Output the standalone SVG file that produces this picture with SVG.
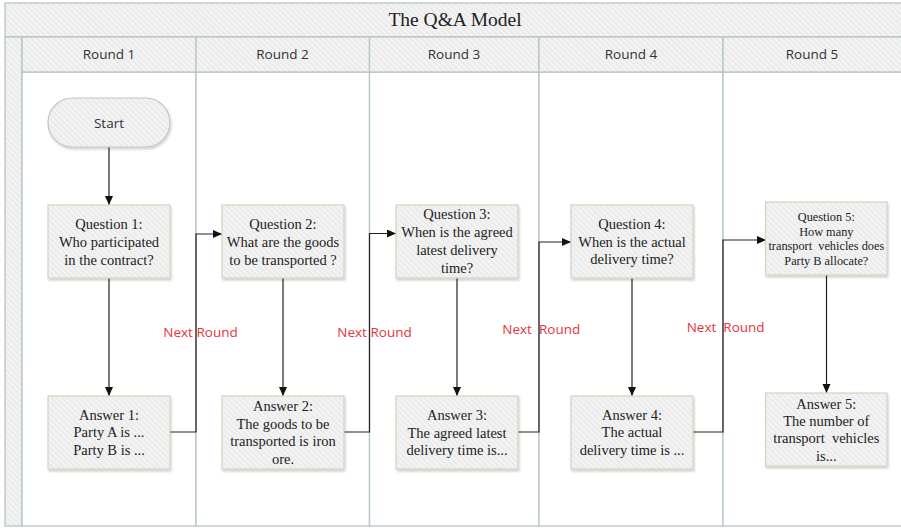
<svg xmlns="http://www.w3.org/2000/svg" width="901" height="528" viewBox="0 0 901 528">
  <style>
    .band { fill: url(#stripes); stroke: #b3c7c0; stroke-width: 1.3; }
    .lane { fill: #ffffff; stroke: #b3c7c0; stroke-width: 1.3; }
    .box { fill: url(#stripes); stroke: #d8d2bc; stroke-width: 1.2; filter: url(#shadow); }
    .term { fill: url(#stripes); stroke: #b9c9c3; stroke-width: 1.2; filter: url(#shadow); }
    .title { font-family: "Liberation Serif", "Times New Roman", serif; font-size: 19.5px; fill: #222; text-anchor: middle; }
    .head { font-family: "Open Sans", "Noto Sans", sans-serif; font-size: 13.5px; fill: #333; text-anchor: middle; }
    .txt { font-family: "Liberation Serif", "Times New Roman", serif; font-size: 14.5px; fill: #222; text-anchor: middle; }
    .small { font-size: 12.3px; }
    .edge { fill: none; stroke: #222; stroke-width: 1.2; }
    .label { font-family: "Open Sans", "Noto Sans", sans-serif; font-size: 13.5px; fill: #e5353b; white-space: pre; }
  </style>
  <defs>
    <pattern id="stripes" patternUnits="userSpaceOnUse" width="4" height="4" patternTransform="rotate(-45)">
      <rect width="4" height="4" fill="#ebebeb"/>
      <rect width="1.6" height="4" fill="#f6f6f6"/>
    </pattern>
    <filter id="shadow" x="-10%" y="-10%" width="120%" height="125%">
      <feDropShadow dx="1" dy="2" stdDeviation="1.2" flood-color="#000" flood-opacity="0.18"/>
    </filter>
    <marker id="arrow" markerUnits="userSpaceOnUse" markerWidth="10" markerHeight="10" refX="9" refY="4" orient="auto">
      <path d="M0,0 L9,4 L0,8 z" fill="#111"/>
    </marker>
  </defs>

  <!-- swimlane frame -->
  <g id="pool">
    <rect class="band" x="5" y="3" width="900" height="34"/>
    <text class="title" x="455" y="26">The Q&amp;A Model</text>
    <rect class="band" x="5" y="37" width="17" height="489"/>
    <rect class="lane" x="22" y="72" width="174" height="454"/>
    <rect class="lane" x="196" y="72" width="173.5" height="454"/>
    <rect class="lane" x="369.5" y="72" width="169.5" height="454"/>
    <rect class="lane" x="539" y="72" width="184" height="454"/>
    <rect class="lane" x="723" y="72" width="182" height="454"/>
    <rect class="band" x="22" y="37" width="174" height="35"/>
    <rect class="band" x="196" y="37" width="173.5" height="35"/>
    <rect class="band" x="369.5" y="37" width="169.5" height="35"/>
    <rect class="band" x="539" y="37" width="184" height="35"/>
    <rect class="band" x="723" y="37" width="182" height="35"/>
    <text class="head" x="109" y="58.5">Round 1</text>
    <text class="head" x="282.5" y="58.5">Round 2</text>
    <text class="head" x="454" y="58.5">Round 3</text>
    <text class="head" x="631" y="58.5">Round 4</text>
    <text class="head" x="812" y="58.5">Round 5</text>
  </g>

  <!-- connectors -->
  <g id="connectors">
    <path class="edge" d="M109,147 V205" marker-end="url(#arrow)"/>
    <path class="edge" d="M109,278 V396" marker-end="url(#arrow)"/>
    <path class="edge" d="M283,278 V396" marker-end="url(#arrow)"/>
    <path class="edge" d="M457,278 V396" marker-end="url(#arrow)"/>
    <path class="edge" d="M632,278 V396" marker-end="url(#arrow)"/>
    <path class="edge" d="M826.5,275 V393" marker-end="url(#arrow)"/>
    <path class="edge" d="M170,432 H196 V234 H222" marker-end="url(#arrow)"/>
    <path class="edge" d="M344,432 H369.5 V233.5 H396" marker-end="url(#arrow)"/>
    <path class="edge" d="M518,432 H539 V242 H571" marker-end="url(#arrow)"/>
    <path class="edge" d="M693,432 H723 V240 H766" marker-end="url(#arrow)"/>
    <text class="label" x="163.3" y="337">Next Round</text>
    <text class="label" x="337.3" y="337">Next Round</text>
    <text class="label" x="502.3" y="334" xml:space="preserve">Next  Round</text>
    <text class="label" x="686.7" y="331.5" xml:space="preserve">Next  Round</text>
  </g>

  <!-- nodes -->
  <g id="start">
    <rect class="term" x="48" y="98" width="122" height="49" rx="24.5"/>
    <text class="head" x="109" y="127.5">Start</text>
  </g>

  <g id="question1">
    <rect class="box" x="48" y="205" width="122" height="73"/>
    <text class="txt" x="109" y="229">Question 1:</text>
    <text class="txt" x="109" y="247">Who participated</text>
    <text class="txt" x="109" y="264.5">in the contract?</text>
  </g>
  <g id="answer1">
    <rect class="box" x="48" y="396" width="122" height="73"/>
    <text class="txt" x="109" y="419.5">Answer 1:</text>
    <text class="txt" x="109" y="437">Party A is ...</text>
    <text class="txt" x="109" y="455">Party B is ...</text>
  </g>

  <g id="question2">
    <rect class="box" x="222" y="205" width="122" height="73"/>
    <text class="txt" x="283" y="229">Question 2:</text>
    <text class="txt" x="283" y="247">What are the goods</text>
    <text class="txt" x="283" y="264.5">to be transported ?</text>
  </g>
  <g id="answer2">
    <rect class="box" x="222" y="396" width="122" height="73"/>
    <text class="txt" x="283" y="410.5">Answer 2:</text>
    <text class="txt" x="283" y="428.5">The goods to be</text>
    <text class="txt" x="283" y="446">transported is iron</text>
    <text class="txt" x="283" y="464">ore.</text>
  </g>

  <g id="question3">
    <rect class="box" x="396" y="205" width="122" height="73"/>
    <text class="txt" x="457" y="219">Question 3:</text>
    <text class="txt" x="457" y="237">When is the agreed</text>
    <text class="txt" x="457" y="255">latest delivery</text>
    <text class="txt" x="457" y="273">time?</text>
  </g>
  <g id="answer3">
    <rect class="box" x="396" y="396" width="122" height="73"/>
    <text class="txt" x="457" y="419.5">Answer 3:</text>
    <text class="txt" x="457" y="437.5">The agreed latest</text>
    <text class="txt" x="457" y="455">delivery time is...</text>
  </g>

  <g id="question4">
    <rect class="box" x="571" y="205" width="122" height="73"/>
    <text class="txt" x="632" y="229">Question 4:</text>
    <text class="txt" x="632" y="246.5">When is the actual</text>
    <text class="txt" x="632" y="264">delivery time?</text>
  </g>
  <g id="answer4">
    <rect class="box" x="571" y="396" width="122" height="73"/>
    <text class="txt" x="632" y="419.5">Answer 4:</text>
    <text class="txt" x="632" y="437">The actual</text>
    <text class="txt" x="632" y="455">delivery time is ...</text>
  </g>

  <g id="question5">
    <rect class="box" x="765.5" y="202" width="121.5" height="73"/>
    <text class="txt small" x="826.3" y="220.5">Question 5:</text>
    <text class="txt small" x="826.3" y="235.5">How many</text>
    <text class="txt small" x="826.3" y="250" xml:space="preserve">transport  vehicles does</text>
    <text class="txt small" x="826.3" y="264.5">Party B allocate?</text>
  </g>
  <g id="answer5">
    <rect class="box" x="765.5" y="393" width="121.5" height="73"/>
    <text class="txt" x="826.3" y="408.5">Answer 5:</text>
    <text class="txt" x="826.3" y="425.5">The number of</text>
    <text class="txt" x="826.3" y="443" xml:space="preserve">transport  vehicles</text>
    <text class="txt" x="826.3" y="460.5">is...</text>
  </g>
</svg>
